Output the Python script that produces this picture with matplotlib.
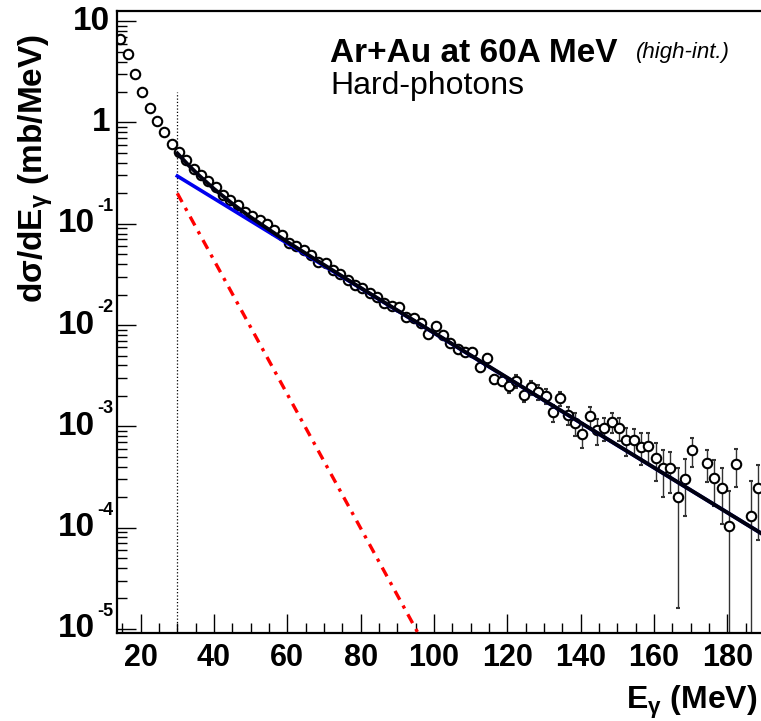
import numpy as np
import matplotlib
matplotlib.use("Agg")
import matplotlib.pyplot as plt

plt.rcParams['font.family'] = ['Liberation Sans', 'DejaVu Sans']
plt.rcParams['mathtext.fontset'] = 'custom'
plt.rcParams['mathtext.rm'] = 'Liberation Sans'
plt.rcParams['mathtext.bf'] = 'Liberation Sans:bold'
plt.rcParams['mathtext.it'] = 'Liberation Sans:italic'

# spectre mesure (bins de 2 MeV)
energie = [14.5, 16.5, 18.5, 20.5, 22.5, 24.5, 26.5, 28.5, 30.5, 32.5,
           34.5, 36.5, 38.5, 40.5, 42.5, 44.5, 46.5, 48.5, 50.5, 52.5,
           54.5, 56.5, 58.5, 60.5, 62.5, 64.5, 66.5, 68.5, 70.5, 72.5,
           74.5, 76.5, 78.5, 80.5, 82.5, 84.5, 86.5, 88.5, 90.5, 92.5,
           94.5, 96.5, 98.5, 100.5, 102.5, 104.5, 106.5, 108.5, 110.5, 112.5,
           114.5, 116.5, 118.5, 120.5, 122.5, 124.5, 126.5, 128.5, 130.5, 132.5,
           134.5, 136.5, 138.5, 140.5, 142.5, 144.5, 146.5, 148.5, 150.5, 152.5,
           154.5, 156.5, 158.5, 160.5, 162.5, 164.5, 166.5, 168.5, 170.5,
           174.5, 176.5, 178.5, 180.5, 182.5, 186.5, 188.5]
dsigma = [6.67, 4.71, 3.01, 2.01, 1.38, 1.04, 0.80, 0.62, 0.51, 0.427,
          0.348, 0.303, 0.265, 0.232, 0.192, 0.172, 0.153, 0.132, 0.119, 0.109,
          0.0995, 0.0869, 0.0776, 0.0642, 0.0604, 0.0551, 0.0492, 0.0423, 0.0407, 0.0350,
          0.0319, 0.0279, 0.0249, 0.0231, 0.0209, 0.0191, 0.0164, 0.0154, 0.0150, 0.0119,
          0.0117, 0.0104, 0.00817, 0.00980, 0.00798, 0.00670, 0.00580, 0.00546, 0.00538, 0.00383,
          0.00477, 0.00292, 0.00281, 0.00251, 0.00281, 0.00206, 0.00243, 0.00219, 0.00200, 0.00137,
          0.00189, 0.00130, 0.00107, 0.00084, 0.00125, 0.00092, 0.00097, 0.00110, 0.000957, 0.000734,
          0.000734, 0.000631, 0.000641, 0.000491, 0.000391, 0.000391, 0.000202, 0.000301, 0.000585,
          0.000432, 0.000312, 0.000248, 0.000104, 0.000423, 0.000130, 0.000245]
erreur = [0.05, 0.04, 0.03, 0.02, 0.015, 0.012, 0.010, 0.008, 0.007, 0.006,
          0.005, 0.005, 0.004, 0.004, 0.0035, 0.003, 0.003, 0.0027, 0.0025, 0.0024,
          0.0022, 0.0020, 0.0019, 0.0017, 0.0016, 0.0015, 0.0014, 0.0013, 0.0013, 0.0012,
          0.0011, 0.0011, 0.0010, 0.0010, 0.0009, 0.0009, 0.0008, 0.0008, 0.0008, 0.0007,
          0.0007, 0.0007, 0.0006, 0.0007, 0.0006, 0.0005, 0.0005, 0.0005, 0.0005, 0.0004,
          0.00045, 0.0003, 0.0003, 0.00037, 0.00041, 0.00033, 0.00040, 0.00036, 0.00034, 0.00027,
          0.00031, 0.00026, 0.00027, 0.00023, 0.00029, 0.00026, 0.00025, 0.00025, 0.00024, 0.00022,
          0.00021, 0.00022, 0.00022, 0.00020, 0.00019, 0.00017, 0.000186, 0.00017, 0.00019,
          0.00015, 0.00015, 0.00014, 0.000126, 0.00017, 0.00016, 0.00017]

# ajustements
E_dur = [30.0, 189.2]          # composante dure (bleu)
sig_dur = [0.296, 8.8e-5]
E_therm = [30.0, 96.5]         # composante thermique (rouge)
sig_therm = [0.20, 8.0e-6]
E_tot = [30.0, 33.0, 36.0, 40.0, 45.0, 50.0, 60.0, 80.0, 189.2]   # somme (noir)
sig_tot = [0.496, 0.380, 0.298, 0.221, 0.158, 0.116, 0.0662, 0.0233, 8.8e-5]

E_seuil = 30.0   # coupure basse
y_seuil = 2.0

# graduations
x_ticks = [20, 40, 60, 80, 100, 120, 140, 160, 180]
x_labels = ['20', '40', '60', '80', '100', '120', '140', '160', '180']
decades = [1e-5, 1e-4, 1e-3, 1e-2, 1e-1, 1, 10]
exposants = ['-5', '-4', '-3', '-2', '-1', '', '']
bases = ['10', '10', '10', '10', '10', '1', '10']

W, H = 761, 721
fig = plt.figure(figsize=(W / 100, H / 100), dpi=100)
ax = fig.add_axes([117 / W, (H - 633) / H, (W - 117) / W, (633 - 10.7) / H])

E = np.array(energie)
y = np.array(dsigma)
err = np.array(erreur)
err_bas = np.minimum(err, y - 1e-8)

ax.errorbar(E, y, yerr=[err_bas, err], fmt='o', ms=6.8, mfc='white', mec='black',
            mew=1.5, ecolor='#333333', elinewidth=1.0, capsize=1.5, capthick=1.0, zorder=2)

ax.plot([E_seuil, E_seuil], [1e-6, y_seuil], color='black', linestyle=':', linewidth=0.9, zorder=1)
ax.plot(E_therm, sig_therm, color='#ff0000', linestyle=(0, (3, 2, 1, 2)), linewidth=2.4, zorder=3)
ax.plot(E_dur, sig_dur, color='#0000ee', linewidth=2.6, zorder=3)
ax.plot(E_tot, sig_tot, color='#000010', linewidth=2.8, zorder=4)

ax.set_yscale('log')
ax.set_xlim(13.55, 189.2)
ax.set_ylim(9.1e-6, 12.7)

ax.set_xticks(x_ticks)
ax.set_xticks(np.arange(15, 190, 5), minor=True)
ax.set_xticklabels(x_labels, fontsize=22, fontweight='bold')
ax.set_yticks(decades)
ax.set_yticklabels([])
ax.yaxis.set_minor_locator(matplotlib.ticker.LogLocator(base=10, subs=np.arange(2, 10)))
ax.yaxis.set_minor_formatter(matplotlib.ticker.NullFormatter())

# etiquettes de l'axe y facon ROOT (10 + exposant)
for v, b, e in zip(decades, bases, exposants):
    if e:
        ax.annotate(b, xy=(0, v), xycoords=('axes fraction', 'data'), xytext=(-22, 0),
                    textcoords='offset pixels', ha='right', va='center',
                    fontsize=24, fontweight='bold', annotation_clip=False)
        ax.annotate(e, xy=(0, v), xycoords=('axes fraction', 'data'), xytext=(-20, 13),
                    textcoords='offset pixels', ha='left', va='baseline',
                    fontsize=13, fontweight='bold', annotation_clip=False)
    else:
        ax.annotate(b, xy=(0, v), xycoords=('axes fraction', 'data'), xytext=(-7, 0),
                    textcoords='offset pixels', ha='right', va='center',
                    fontsize=24, fontweight='bold', annotation_clip=False)

ax.tick_params(which='major', direction='in', length=14, width=1.0, top=False, right=False)
ax.tick_params(which='minor', direction='in', length=7, width=1.0, top=False, right=False)
ax.tick_params(axis='x', pad=7)
for s in ['left', 'bottom', 'top']:
    ax.spines[s].set_linewidth(1.6)
ax.spines['right'].set_visible(False)

fig.text(36 / W, 1 - 168 / H, r'd$\mathbf{\sigma}$/dE$_{\mathbf{\gamma}}$ (mb/MeV)',
         rotation=90, ha='center', va='center', fontsize=24, fontweight='bold')
fig.text(757 / W, 1 - 709 / H, r'E$_{\mathbf{\gamma}}$ (MeV)', ha='right', va='baseline',
         fontsize=23, fontweight='bold')

fig.text(330 / W, 1 - 62 / H, 'Ar+Au at 60A MeV', fontsize=24, fontweight='bold', va='baseline')
fig.text(636 / W, 1 - 58 / H, '(high-int.)', fontsize=16, style='italic', va='baseline')
fig.text(330 / W, 1 - 94 / H, 'Hard-photons', fontsize=23, va='baseline')

fig.savefig('out.png', dpi=100)
